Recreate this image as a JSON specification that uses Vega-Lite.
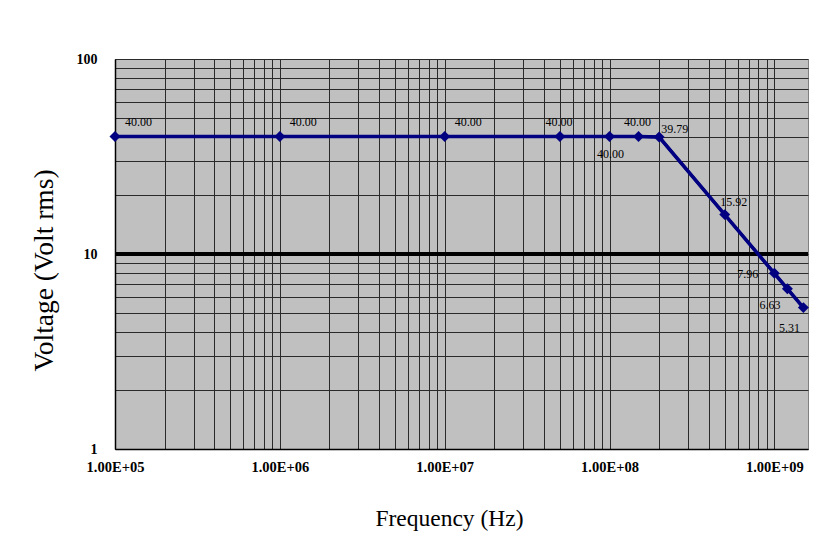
{
  "$schema": "https://vega.github.io/schema/vega-lite/v6.json",
  "autosize": {"type": "none"},
  "padding": {"left": 115, "top": 59, "right": 32, "bottom": 107},
  "width": 693,
  "height": 390,
  "background": "white",
  "config": {
    "view": {"fill": "#c0c0c0", "stroke": "#808080", "strokeWidth": 1},
    "font": "Liberation Serif"
  },
  "data": {
    "values": [
      {"freq": 100000, "volt": 40.0, "label": "40.00"},
      {"freq": 1000000, "volt": 40.0, "label": "40.00"},
      {"freq": 10000000, "volt": 40.0, "label": "40.00"},
      {"freq": 50000000, "volt": 40.0, "label": "40.00"},
      {"freq": 100000000, "volt": 40.0, "label": "40.00"},
      {"freq": 150000000, "volt": 40.0, "label": "40.00"},
      {"freq": 200000000, "volt": 39.79, "label": "39.79"},
      {"freq": 500000000, "volt": 15.92, "label": "15.92"},
      {"freq": 1000000000, "volt": 7.96, "label": "7.96"},
      {"freq": 1200000000, "volt": 6.63, "label": "6.63"},
      {"freq": 1500000000, "volt": 5.31, "label": "5.31"}
    ]
  },
  "layer": [
    {
      "mark": {"type": "line", "color": "#000080", "strokeWidth": 3, "clip": true},
      "encoding": {
        "x": {
          "field": "freq", "type": "quantitative",
          "scale": {"type": "log", "domain": [100000, 1600000000], "nice": false},
          "axis": {
            "title": "Frequency (Hz)",
            "titleFont": "Liberation Serif", "titleFontSize": 23.5, "titleFontWeight": "normal", "titleColor": "#000",
            "titlePadding": 33, "titleX": 334,
            "values": [100000, 200000, 300000, 400000, 500000, 600000, 700000, 800000, 900000,
                       1000000, 2000000, 3000000, 4000000, 5000000, 6000000, 7000000, 8000000, 9000000,
                       10000000, 20000000, 30000000, 40000000, 50000000, 60000000, 70000000, 80000000, 90000000,
                       100000000, 200000000, 300000000, 400000000, 500000000, 600000000, 700000000, 800000000, 900000000,
                       1000000000],
            "labelExpr": "indexof([100000,1000000,10000000,100000000,1000000000], datum.value) >= 0 ? replace(upper(format(datum.value,'.2e')),'E+','E+0') : ''",
            "labelFont": "Liberation Serif", "labelFontSize": 14.5, "labelFontWeight": "bold", "labelColor": "#000",
            "labelPadding": 11, "labelOverlap": false, "labelFlush": false,
            "ticks": false, "domainColor": "#000", "domainWidth": 1.5,
            "grid": true, "gridColor": "#2a2a2a", "gridWidth": 1
          }
        },
        "y": {
          "field": "volt", "type": "quantitative",
          "scale": {"type": "log", "domain": [1, 100], "nice": false},
          "axis": {
            "title": "Voltage (Volt rms)",
            "titleFont": "Liberation Serif", "titleFontSize": 27.5, "titleFontWeight": "normal", "titleColor": "#000",
            "titlePadding": 18, "titleY": 211,
            "values": [1, 2, 3, 4, 5, 6, 7, 8, 9, 10, 20, 30, 40, 50, 60, 70, 80, 90, 100],
            "labelExpr": "indexof([1,10,100], datum.value) >= 0 ? format(datum.value,'d') : ''",
            "labelFont": "Liberation Serif", "labelFontSize": 14, "labelFontWeight": "bold", "labelColor": "#000",
            "labelPadding": 18, "labelOverlap": false, "labelFlush": false,
            "ticks": false, "domainColor": "#000", "domainWidth": 1.5,
            "grid": true, "gridColor": "#2a2a2a", "gridWidth": 1
          }
        }
      }
    },
    {
      "mark": {"type": "rule", "color": "#000", "strokeWidth": 3},
      "encoding": {"y": {"datum": 10}}
    },
    {
      "mark": {"type": "line", "color": "#000080", "strokeWidth": 3.5},
      "encoding": {
        "x": {"field": "freq", "type": "quantitative"},
        "y": {"field": "volt", "type": "quantitative"}
      }
    },
    {
      "mark": {"type": "point", "shape": "diamond", "filled": true, "color": "#000080", "size": 120, "opacity": 1},
      "encoding": {
        "x": {"field": "freq", "type": "quantitative"},
        "y": {"field": "volt", "type": "quantitative"}
      }
    },
    {
      "transform": [{"filter": {"field": "freq", "oneOf": [100000, 1000000, 10000000]}}],
      "mark": {"type": "text", "align": "left", "dx": 10, "dy": -15, "fontSize": 12, "font": "Liberation Serif", "color": "#000"},
      "encoding": {
        "x": {"field": "freq", "type": "quantitative"},
        "y": {"field": "volt", "type": "quantitative"},
        "text": {"field": "label"}
      }
    },
    {
      "transform": [{"filter": {"field": "freq", "oneOf": [50000000, 150000000]}}],
      "mark": {"type": "text", "align": "center", "dx": -1, "dy": -15, "fontSize": 12, "font": "Liberation Serif", "color": "#000"},
      "encoding": {
        "x": {"field": "freq", "type": "quantitative"},
        "y": {"field": "volt", "type": "quantitative"},
        "text": {"field": "label"}
      }
    },
    {
      "transform": [{"filter": {"field": "freq", "oneOf": [100000000]}}],
      "mark": {"type": "text", "align": "center", "dx": 1, "dy": 17, "fontSize": 12, "font": "Liberation Serif", "color": "#000"},
      "encoding": {
        "x": {"field": "freq", "type": "quantitative"},
        "y": {"field": "volt", "type": "quantitative"},
        "text": {"field": "label"}
      }
    },
    {
      "transform": [{"filter": {"field": "freq", "oneOf": [200000000]}}],
      "mark": {"type": "text", "align": "left", "dx": 2, "dy": -8, "fontSize": 12, "font": "Liberation Serif", "color": "#000"},
      "encoding": {
        "x": {"field": "freq", "type": "quantitative"},
        "y": {"field": "volt", "type": "quantitative"},
        "text": {"field": "label"}
      }
    },
    {
      "transform": [{"filter": {"field": "freq", "oneOf": [500000000]}}],
      "mark": {"type": "text", "align": "center", "dx": 9, "dy": -13, "fontSize": 12, "font": "Liberation Serif", "color": "#000"},
      "encoding": {
        "x": {"field": "freq", "type": "quantitative"},
        "y": {"field": "volt", "type": "quantitative"},
        "text": {"field": "label"}
      }
    },
    {
      "transform": [{"filter": {"field": "freq", "oneOf": [1000000000]}}],
      "mark": {"type": "text", "align": "right", "dx": -16, "dy": 1, "fontSize": 12, "font": "Liberation Serif", "color": "#000"},
      "encoding": {
        "x": {"field": "freq", "type": "quantitative"},
        "y": {"field": "volt", "type": "quantitative"},
        "text": {"field": "label"}
      }
    },
    {
      "transform": [{"filter": {"field": "freq", "oneOf": [1200000000]}}],
      "mark": {"type": "text", "align": "right", "dx": -7, "dy": 16, "fontSize": 12, "font": "Liberation Serif", "color": "#000"},
      "encoding": {
        "x": {"field": "freq", "type": "quantitative"},
        "y": {"field": "volt", "type": "quantitative"},
        "text": {"field": "label"}
      }
    },
    {
      "transform": [{"filter": {"field": "freq", "oneOf": [1500000000]}}],
      "mark": {"type": "text", "align": "center", "dx": -14, "dy": 20, "fontSize": 12, "font": "Liberation Serif", "color": "#000"},
      "encoding": {
        "x": {"field": "freq", "type": "quantitative"},
        "y": {"field": "volt", "type": "quantitative"},
        "text": {"field": "label"}
      }
    }
  ]
}
